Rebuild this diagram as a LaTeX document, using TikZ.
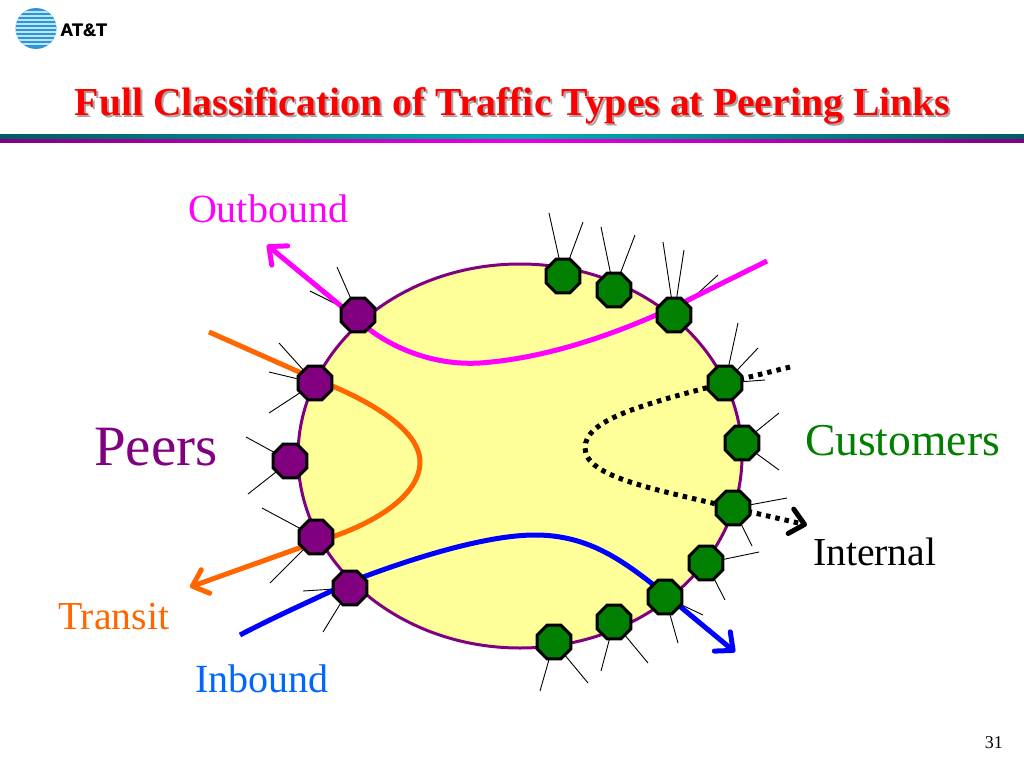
\documentclass[tikz,border=0pt]{standalone}
\usepackage{fontspec}
\setmainfont{Liberation Serif}
\newfontfamily\logofont{Liberation Sans}
\usetikzlibrary{shapes.geometric,arrows.meta,backgrounds,calc}
\definecolor{cpurple}{HTML}{800080}
\definecolor{cgreen}{HTML}{007F00}
\definecolor{cyellow}{HTML}{FFFF99}
\definecolor{cmag}{HTML}{FF00FF}
\definecolor{corange}{HTML}{FF6600}
\definecolor{cblue}{HTML}{0000FF}
\definecolor{clabelblue}{HTML}{0066FF}
\tikzset{
  x=1pt,y=-1pt,
  octa/.style={regular polygon,regular polygon sides=8,draw=black,line width=3pt,inner sep=0pt,minimum size=36.5pt,outer sep=0pt},
  peernode/.style={octa,fill=cpurple},
  custnode/.style={octa,fill=cgreen},
  spoke/.style={draw=black,line width=0.9pt},
  flow/.style={line width=5pt,line cap=butt},
  barbtip/.style={-{Straight Barb[length=14pt,width=25pt,line width=5pt,round=false]}},
  lab/.style={anchor=base west,inner sep=0pt,outer sep=0pt,font=\fontsize{40}{48}\selectfont},
  titletext/.style={anchor=base,inner sep=0pt,font=\bfseries\fontsize{39.7}{46}\selectfont},
  logotext/.style={anchor=base west,inner sep=0pt,font=\logofont\bfseries\fontsize{18}{20}\selectfont,text=black},
}
\begin{document}
\begin{tikzpicture}
\useasboundingbox (0,0) rectangle (1024,768);
% logo
\begin{scope}
\clip (36,28.5) circle (20.5);
\fill[color={rgb,255:red,45;green,150;blue,215}] (10,5) rectangle (60,52);
\foreach \yy/\ww in {12/1.2,16/1.6,20/1.8,24/2,28/2.2,32/2.2,36/1.8,40/1.5,44/1.1}
  \fill[color={rgb,255:red,190;green,228;blue,248}] (10,\yy-\ww/2) rectangle (60,\yy+\ww/2);
\end{scope}
\node[logotext] (logotext) at (60,36.5) {AT\&T};
\node[logotext] (logotextb) at (60.5,36.5) {AT\&T};
% title
\node[titletext,text=black!35] (titleshadow) at (514.5,117) {Full Classification of Traffic Types at Peering Links};
\node[titletext,text=red] (title) at (512.5,115) {Full Classification of Traffic Types at Peering Links};
% rules
\shade[left color={rgb,255:red,0;green,90;blue,100},right color={rgb,255:red,0;green,90;blue,100},middle color={rgb,255:red,0;green,175;blue,175}] (0,134) rectangle (1024,138);
\shade[left color={rgb,255:red,130;green,0;blue,130},right color={rgb,255:red,130;green,0;blue,130},middle color={rgb,255:red,235;green,0;blue,225}] (0,139) rectangle (1024,142);
% routers
\node[peernode] (p1) at (358,315) {};
\node[peernode] (p2) at (315,383) {};
\node[peernode] (p3) at (290,461) {};
\node[peernode] (p4) at (316,537) {};
\node[peernode] (p5) at (350,588) {};
\node[custnode] (g1) at (563,276) {};
\node[custnode] (g2) at (614,290) {};
\node[custnode] (g3) at (674,315) {};
\node[custnode] (g4) at (725,383) {};
\node[custnode] (g5) at (742,443) {};
\node[custnode] (g6) at (733,508) {};
\node[custnode] (g7) at (706,563) {};
\node[custnode] (g8) at (665,597) {};
\node[custnode] (g9) at (614,622) {};
\node[custnode] (g10) at (554,642) {};
% free ends
\coordinate (g1a) at (549,213); \coordinate (g1b) at (583,222);
\coordinate (g2a) at (601,227); \coordinate (g2b) at (635,235);
\coordinate (g3a) at (663,242); \coordinate (g3b) at (684,250); \coordinate (g3c) at (718,275);
\coordinate (g4a) at (738,323); \coordinate (g4b) at (758,348); \coordinate (g4c) at (765,380);
\coordinate (g5a) at (779,413); \coordinate (g5b) at (779,470);
\coordinate (g6a) at (787,498); \coordinate (g6b) at (752,546);
\coordinate (g7a) at (759,552); \coordinate (g7b) at (725,600);
\coordinate (g8a) at (703,615); \coordinate (g8b) at (678,643);
\coordinate (g9a) at (601,671); \coordinate (g9b) at (648,663);
\coordinate (g10a) at (540,691); \coordinate (g10b) at (588,683);
\coordinate (p1a) at (337,267); \coordinate (p1b) at (310,291);
\coordinate (p2a) at (279,343); \coordinate (p2b) at (269,372); \coordinate (p2c) at (269,413);
\coordinate (p3a) at (246,437); \coordinate (p3b) at (248,494);
\coordinate (p4a) at (262,508); \coordinate (p4b) at (270,583);
\coordinate (p5a) at (303,591); \coordinate (p5b) at (323,632);
\coordinate (mS) at (767,261); \coordinate (mE) at (267,245);
\coordinate (oS) at (209,332); \coordinate (oE) at (190,587);
\coordinate (bS) at (240,635); \coordinate (bE) at (735,652);
\coordinate (kS) at (790,367); \coordinate (kE) at (807,525);
\begin{pgfonlayer}{background}
\node[ellipse,draw=cpurple,fill=cyellow,line width=3pt,minimum width=444pt,minimum height=384pt,inner sep=0pt] (core) at (520,456) {};
\foreach \a/\b in {g1/g1a,g1/g1b,g2/g2a,g2/g2b,g3/g3a,g3/g3b,g3/g3c,g4/g4a,g4/g4b,g4/g4c,g5/g5a,g5/g5b,g6/g6a,g6/g6b,g7/g7a,g7/g7b,g8/g8a,g8/g8b,g9/g9a,g9/g9b,g10/g10a,g10/g10b,p1/p1a,p1/p1b,p2/p2a,p2/p2b,p2/p2c,p3/p3a,p3/p3b,p4/p4a,p4/p4b,p5/p5a,p5/p5b}
  \draw[spoke] (\a.center) -- (\b);
\draw[flow,cmag,barbtip] (mS) -- ($(g3)+(0,-8)$) .. controls (620,332) and (550,358) .. (480,363) .. controls (430,366) and (385,345) .. ($(p1)+(0,5)$) -- (mE);
\draw[flow,corange,barbtip] (oS) -- ($(p2)+(0,-4)$) .. controls (370,400) and (420,430) .. (420,462) .. controls (420,495) and (375,525) .. ($(p4)+(0,5)$) -- (oE);
\draw[flow,cblue,barbtip] (bS) .. controls (280,614) and (320,597) .. ($(p5)+(0,-6)$) .. controls (420,555) and (490,535) .. (535,535) .. controls (590,535) and (625,562) .. ($(g8)+(0,-3)$) -- (bE);
\draw[flow,black,barbtip,dash pattern=on 4.5pt off 5pt] (kS) -- (g4.center) .. controls (640,405) and (585,420) .. (585,448) .. controls (585,478) and (660,490) .. (g6.center) -- (kE);
\end{pgfonlayer}
% labels
\node[lab,text=cmag] (outbound) at (188,222) {Outbound};
\node[lab,text=cpurple,font=\fontsize{57}{66}\selectfont] (peers) at (94,465) {Peers};
\node[lab,text=cgreen,font=\fontsize{45.6}{54}\selectfont] (customers) at (805,455) {Customers};
\node[lab,text=black,font=\fontsize{39.7}{48}\selectfont] (internal) at (813,565) {Internal};
\node[lab,text=corange,font=\fontsize{39.7}{48}\selectfont] (transit) at (58,629) {Transit};
\node[lab,text=clabelblue] (inbound) at (195,692) {Inbound};
\node[anchor=base east,inner sep=0pt,font=\fontsize{18}{20}\selectfont] (pagenum) at (1003,748) {31};
\end{tikzpicture}
\end{document}
